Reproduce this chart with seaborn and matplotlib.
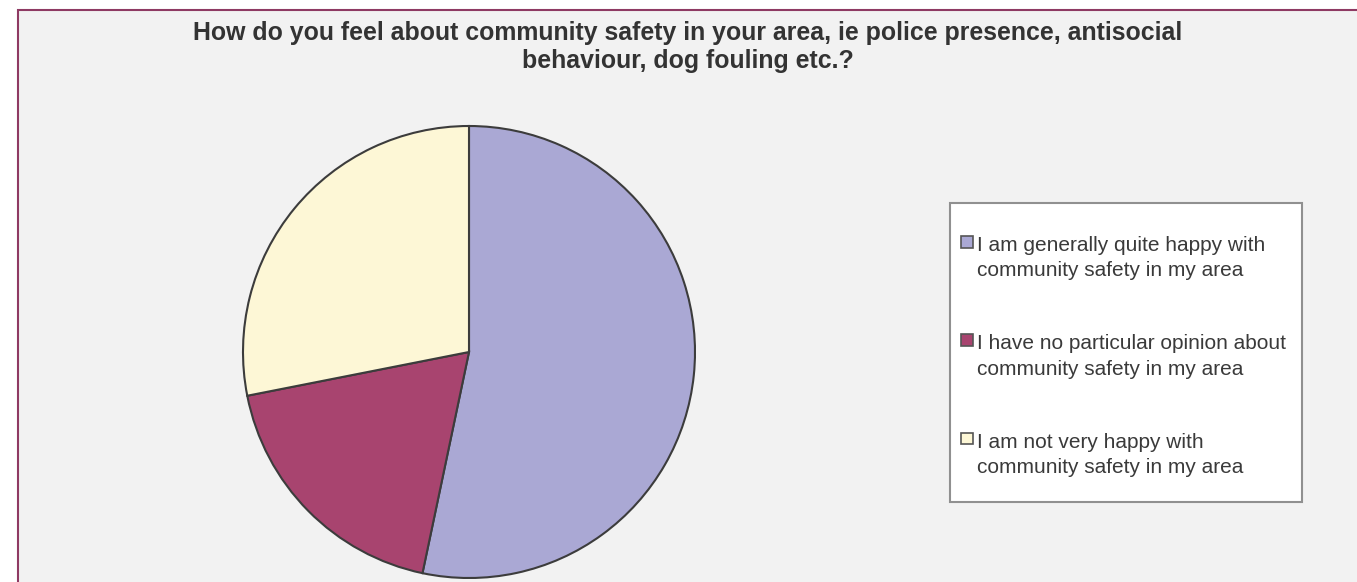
import matplotlib
matplotlib.use("Agg")
import matplotlib.pyplot as plt
import seaborn as sns
from matplotlib.patches import Rectangle, Patch
from matplotlib.legend_handler import HandlerPatch

# Data (share of respondents, %)
answers = [
    "I am generally quite happy with\ncommunity safety in my area",
    "I have no particular opinion about\ncommunity safety in my area",
    "I am not very happy with\ncommunity safety in my area",
]
shares = [53.3, 18.6, 28.1]
slice_colors = ["#aaa8d4", "#a8446f", "#fdf7d6"]
title = ("How do you feel about community safety in your area, ie police presence, antisocial\n"
         "behaviour, dog fouling etc.?")

sns.set_theme(style="white")
plt.rcParams["font.family"] = ["Liberation Sans", "DejaVu Sans"]

W, H = 1357, 582
fig = plt.figure(figsize=(W / 100, H / 100), dpi=100, facecolor="white")

# grey panel with maroon border (only top and left edges visible)
bg = Rectangle((18 / W, -0.1), 1.2, 1 - 10 / H + 0.1, transform=fig.transFigure,
               facecolor="#f2f2f2", edgecolor="#8e3a63", lw=1.5, zorder=-10)
fig.add_artist(bg)

# pie
cx, cy, r = 469, 352, 226
ax = fig.add_axes([(cx - r) / W, 1 - (cy + r) / H, 2 * r / W, 2 * r / H])
ax.pie(shares, colors=slice_colors, startangle=90, counterclock=False,
       wedgeprops=dict(edgecolor="#3c3c3c", linewidth=1.5))
ax.set_xlim(-1, 1)
ax.set_ylim(-1, 1)
ax.set_facecolor("none")

fig.text(688 / W, 1 - 21 / H, title, ha="center", va="top", fontsize=17.9,
         fontweight="bold", color="#333333", linespacing=1.22)

# legend box
frame = Rectangle((950 / W, 1 - 502 / H), 352 / W, 299 / H, transform=fig.transFigure,
                  facecolor="white", edgecolor="#909090", lw=1.5, zorder=2)
fig.add_artist(frame)


def top_square(legend, orig_handle, xdescent, ydescent, width, height, fontsize):
    s = 0.57 * fontsize
    return Rectangle((-xdescent, 0.87 * fontsize), s, s)


handles = [Patch(facecolor=c, edgecolor="#555555", lw=1.2) for c in slice_colors]
leg = fig.legend(handles, answers, loc="upper left",
                 bbox_to_anchor=(961 / W, 1 - 236 / H), bbox_transform=fig.transFigure,
                 frameon=False, fontsize=15, borderpad=0, borderaxespad=0,
                 handlelength=0.57, handleheight=0.57, handletextpad=0.2,
                 labelspacing=2.6, handler_map={Patch: HandlerPatch(patch_func=top_square)})
for t in leg.get_texts():
    t.set_color("#3a3a3a")
    t.set_linespacing(1.42)
leg.set_zorder(5)

fig.savefig("out.png", dpi=100)
